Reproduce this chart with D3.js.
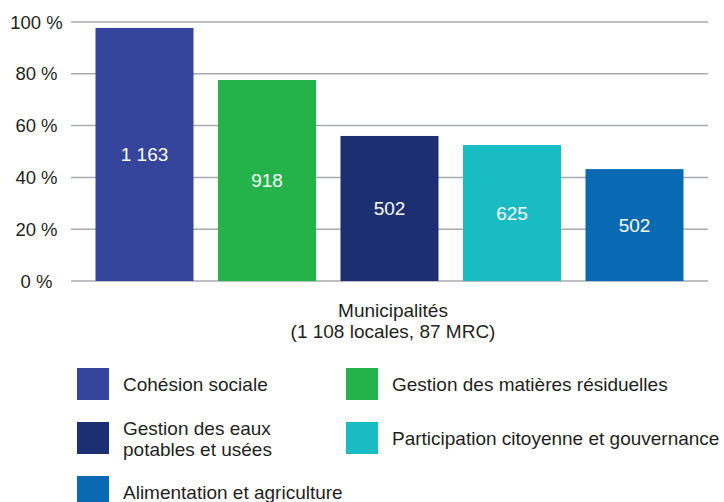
<!DOCTYPE html>
<html>
<head>
<meta charset="utf-8">
<script src="https://cdn.jsdelivr.net/npm/d3@7"></script>
<style>
	body { margin: 0; background: #fff; }
	text { font-family: "Liberation Sans", Arial, sans-serif; fill: #231f20; }
</style>
</head>
<body>
<svg id="chart" width="724" height="502"></svg>
<script>
var categories = ["Cohésion sociale", "Gestion des matières résiduelles", "Gestion des eaux potables et usées",
	"Participation citoyenne et gouvernance", "Alimentation et agriculture"];
var percents = [97.7, 77.6, 56.0, 52.5, 43.2];
var counts = [1163, 918, 502, 625, 502];
var colors = ["#35459b", "#24b24b", "#1d2f73", "#1abcc4", "#0a69b3"];
var legendLines = [["Cohésion sociale"], ["Gestion des matières résiduelles"], ["Gestion des eaux", "potables et usées"],
	["Participation citoyenne et gouvernance"], ["Alimentation et agriculture"]];
var yTicks = [0, 20, 40, 60, 80, 100];
var axisTitle = ["Municipalités", "(1 108 locales, 87 MRC)"];

var svg = d3.select("#chart");
var plotLeft = 71, plotRight = 708, plotTop = 22, plotBottom = 281;

var fr = d3.formatLocale({ decimal: ",", thousands: "\u00a0", grouping: [3], currency: ["", " $"] });
var fmt = fr.format(",d");

var x = d3.scaleBand()
	.domain(categories)
	.range([plotLeft, plotRight])
	.paddingInner(0.2)
	.paddingOuter(0.2);

var y = d3.scaleLinear()
	.domain([0, 100])
	.range([plotBottom, plotTop]);

// grille
var grid = svg.append("g");
grid.selectAll("line")
	.data(yTicks)
	.enter().append("line")
	.attr("x1", plotLeft)
	.attr("x2", plotRight)
	.attr("y1", function (d) { return y(d); })
	.attr("y2", function (d) { return y(d); })
	.style("stroke", "#a7aaae")
	.style("stroke-width", 1.5);

grid.selectAll("text")
	.data(yTicks)
	.enter().append("text")
	.attr("x", 36.5)
	.attr("y", function (d) { return y(d); })
	.attr("dy", "0.36em")
	.attr("text-anchor", "middle")
	.style("font-size", "18.5px")
	.text(function (d) { return d + " %"; });

// barres
var bars = svg.append("g");
bars.selectAll("rect")
	.data(categories)
	.enter().append("rect")
	.attr("x", function (d) { return x(d); })
	.attr("width", x.bandwidth())
	.attr("y", function (d, i) { return y(percents[i]); })
	.attr("height", function (d, i) { return y(0) - y(percents[i]); })
	.style("fill", function (d, i) { return colors[i]; });

bars.selectAll("text")
	.data(categories)
	.enter().append("text")
	.attr("x", function (d) { return x(d) + x.bandwidth() / 2; })
	.attr("y", function (d, i) { return (y(percents[i]) + y(0)) / 2; })
	.attr("dy", "0.36em")
	.attr("text-anchor", "middle")
	.style("font-size", "19px")
	.style("fill", "#fff")
	.text(function (d, i) { return fmt(counts[i]); });

// titre de l'axe
svg.append("text")
	.attr("x", 393)
	.attr("y", 316.5)
	.attr("text-anchor", "middle")
	.style("font-size", "19px")
	.selectAll("tspan")
	.data(axisTitle)
	.enter().append("tspan")
	.attr("x", 393)
	.attr("dy", function (d, i) { return i ? 21 : 0; })
	.text(function (d) { return d; });

// légende
var legend = svg.append("g")
	.selectAll("g")
	.data(categories)
	.enter().append("g")
	.attr("transform", function (d, i) {
		return "translate(" + [77 + (i % 2) * 269, 368 + Math.floor(i / 2) * 54] + ")";
	});

legend.append("rect")
	.attr("width", 32)
	.attr("height", 32)
	.style("fill", function (d, i) { return colors[i]; });

legend.append("text")
	.attr("x", 46)
	.style("font-size", "19px")
	.each(function (d, i) {
		var lines = legendLines[i];
		var t = d3.select(this);
		lines.forEach(function (line, j) {
			t.append("tspan")
				.attr("x", 46)
				.attr("y", 16 + 7 + (j - (lines.length - 1) / 2) * 21)
				.text(line);
		});
	});
</script>
</body>
</html>
